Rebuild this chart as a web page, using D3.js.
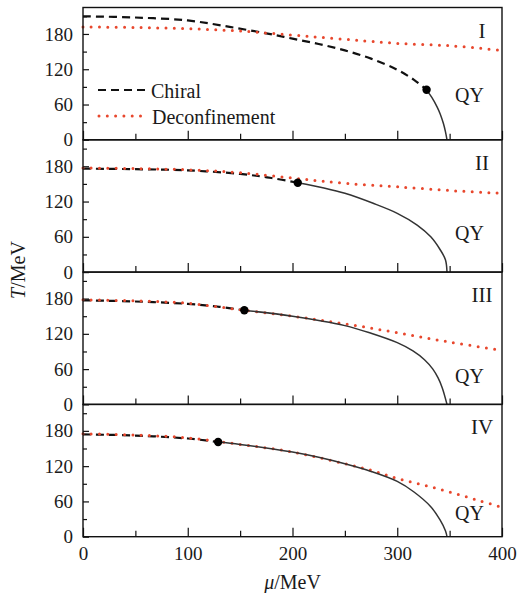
<!DOCTYPE html>
<html>
<head>
<meta charset="utf-8">
<script src="https://cdn.jsdelivr.net/npm/d3@7"></script>
<style>
  body { margin: 0; background: #fff; }
  svg { display: block; }
  text { font-family: "Liberation Serif", "Times New Roman", serif; fill: #1a1a1a; }
</style>
</head>
<body>
<svg id="chart" width="518" height="593"></svg>
<script>
// panel names
var panelNames = ["I", "II", "III", "IV"];

// axis ticks
var muTicks = [0, 100, 200, 300, 400];
var muMinorTicks = [50, 150, 250, 350];
var tTicks = [0, 60, 120, 180];
var tMinorTicks = [30, 90, 150, 210];

// [mu, T] in MeV
var chiralI = [[0, 210], [50, 208], [100, 203], [140, 192], [175, 181], [200, 172], [225, 163], [250, 152], [275, 138], [300, 119], [316, 102], [328, 85]];
var qyI = [[328, 85], [333, 72], [338, 56], [341, 44], [344, 28], [346, 14], [347.5, 0]];
var deconfI = [[0, 192], [50, 191], [100, 189], [150, 185], [200, 178], [236, 173], [270, 168], [300, 164], [350, 160], [400, 152]];
var cepI = [328, 85];

var chiralII = [[0, 176], [50, 175], [100, 173], [150, 167], [180, 160], [205, 152]];
var qyII = [[205, 152], [230, 143], [250, 134], [277, 117], [300, 100], [319, 80], [332, 60], [341, 38], [346, 21], [347.5, 0]];
var deconfII = [[0, 177], [50, 176], [100, 174], [150, 169], [210, 158], [250, 151], [300, 145], [357, 138], [400, 134]];
var cepII = [205, 152];

var chiralIII = [[0, 177], [50, 175], [100, 171], [130, 166], [154, 160]];
var qyIII = [[154, 160], [200, 150], [250, 134], [275, 121], [300, 105], [315, 91], [326, 76], [334, 60], [339, 45], [343, 28], [347.5, 0]];
var deconfIII = [[0, 178], [50, 176], [100, 172], [150, 161], [200, 150], [250, 137], [300, 122], [350, 106], [400, 92]];
var cepIII = [154, 160];

var chiralIV = [[0, 174], [50, 172], [100, 167], [129, 161]];
var qyIV = [[129, 161], [150, 157], [200, 144], [225, 135], [250, 124], [275, 111], [300, 94], [316, 76], [332, 51], [341, 28], [346, 10], [347.5, 0]];
var deconfIV = [[0, 175], [50, 173], [100, 168], [150, 157], [200, 144], [250, 124], [275, 113], [300, 99], [325, 88], [350, 76], [375, 63], [400, 50]];
var cepIV = [129, 161];

var panels = [
  { name: panelNames[0], chiral: chiralI, qy: qyI, deconf: deconfI, cep: cepI },
  { name: panelNames[1], chiral: chiralII, qy: qyII, deconf: deconfII, cep: cepII },
  { name: panelNames[2], chiral: chiralIII, qy: qyIII, deconf: deconfIII, cep: cepIII },
  { name: panelNames[3], chiral: chiralIV, qy: qyIV, deconf: deconfIV, cep: cepIV }
];

// layout
var plotLeft = 83, plotRight = 502, plotTop = 7.5, panelH = 132.3;
var qyBaseline = [102, 240, 383, 520];
var red = "#e8472d";

var svg = d3.select("#chart");

var x = d3.scaleLinear().domain([0, 400]).range([plotLeft, plotRight]);
var y = d3.scaleLinear().domain([0, 225]).range([panelH, 0]);

var line = d3.line()
  .x(function (d) { return x(d[0]); })
  .y(function (d) { return y(d[1]); })
  .curve(d3.curveCatmullRom.alpha(0.5));

panels.forEach(function (p, i) {
  var offset = plotTop + i * panelH;
  var g = svg.append("g").attr("transform", "translate(0," + offset + ")");
  var last = i === panels.length - 1;

  /* Axes */
  var yMajor = g.append("g").attr("transform", "translate(" + plotLeft + ",0)")
    .call(d3.axisLeft(y).tickValues(tTicks).tickSize(-6).tickPadding(10));
  var yMinor = g.append("g").attr("transform", "translate(" + plotLeft + ",0)")
    .call(d3.axisLeft(y).tickValues(tMinorTicks).tickSize(-4).tickFormat(""));
  var xMajor = g.append("g").attr("transform", "translate(0," + panelH + ")")
    .call(d3.axisBottom(x).tickValues(muTicks).tickSize(-9).tickPadding(10)
      .tickFormat(last ? d3.format("d") : ""));
  var xMinor = g.append("g").attr("transform", "translate(0," + panelH + ")")
    .call(d3.axisBottom(x).tickValues(muMinorTicks).tickSize(-6).tickFormat(""));

  [yMajor, yMinor, xMajor, xMinor].forEach(function (a) {
    a.select(".domain").remove();
    a.selectAll("line").attr("stroke", "#111").attr("stroke-width", 1.2);
    a.selectAll("text").attr("font-size", 19).attr("font-family", "Liberation Serif").attr("fill", "#1a1a1a");
  });

  /* Lines */
  g.append("path").datum(p.chiral).attr("d", line)
    .attr("fill", "none").attr("stroke", "#111").attr("stroke-width", 2.2)
    .attr("stroke-dasharray", "8,5");
  g.append("path").datum(p.deconf).attr("d", line)
    .attr("fill", "none").attr("stroke", red).attr("stroke-width", 3)
    .attr("stroke-linecap", "round").attr("stroke-dasharray", "0,8.3");
  g.append("path").datum(p.qy).attr("d", line)
    .attr("fill", "none").attr("stroke", "#333").attr("stroke-width", 1.5);
  g.append("circle").attr("cx", x(p.cep[0])).attr("cy", y(p.cep[1])).attr("r", 4.2)
    .attr("fill", "#000");

  /* Frame */
  g.append("rect").attr("x", plotLeft).attr("y", 0)
    .attr("width", plotRight - plotLeft).attr("height", panelH)
    .attr("fill", "none").attr("stroke", "#111").attr("stroke-width", 1.4);

  /* Labels */
  g.append("text").attr("x", 482).attr("y", 30).attr("text-anchor", "middle")
    .attr("font-size", 21).text(p.name);
  g.append("text").attr("x", 455).attr("y", qyBaseline[i] - offset)
    .attr("font-size", 20).text("QY");
});

/* Legend */
var leg = svg.append("g");
leg.append("line").attr("x1", 98).attr("x2", 148).attr("y1", 90).attr("y2", 90)
  .attr("stroke", "#111").attr("stroke-width", 2.2).attr("stroke-dasharray", "8,5");
leg.append("text").attr("x", 151).attr("y", 97.5).attr("font-size", 20).text("Chiral");
leg.append("line").attr("x1", 99).attr("x2", 146).attr("y1", 116).attr("y2", 116)
  .attr("stroke", red).attr("stroke-width", 3).attr("stroke-linecap", "round")
  .attr("stroke-dasharray", "0,8.3");
leg.append("text").attr("x", 152).attr("y", 124).attr("font-size", 20).text("Deconfinement");

/* Axis titles */
var xt = svg.append("text").attr("x", (plotLeft + plotRight) / 2).attr("y", 589)
  .attr("text-anchor", "middle").attr("font-size", 20);
xt.append("tspan").attr("font-style", "italic").text("μ");
xt.append("tspan").text("/MeV");

var yt = svg.append("text").attr("transform", "translate(25,270) rotate(-90)")
  .attr("text-anchor", "middle").attr("font-size", 20);
yt.append("tspan").attr("font-style", "italic").text("T");
yt.append("tspan").text("/MeV");
</script>
</body>
</html>
